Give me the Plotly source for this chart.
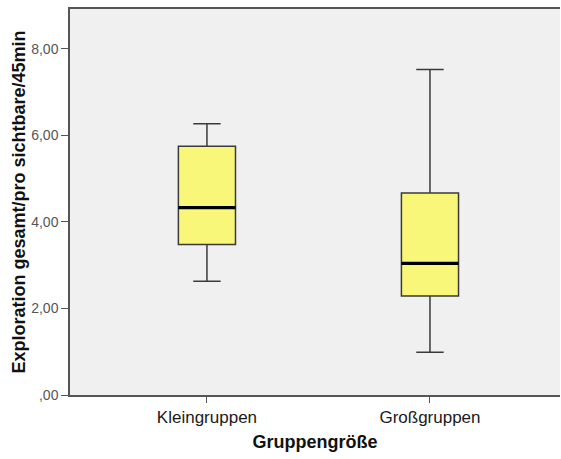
import plotly.graph_objects as go

# Box plot summary per group
groups = ["Kleingruppen", "Großgruppen"]
lower_whisker = [2.63, 0.99]
q1 = [3.48, 2.29]
median = [4.33, 3.04]
q3 = [5.75, 4.67]
upper_whisker = [6.27, 7.52]

y_ticks = [0, 2, 4, 6, 8]
y_tick_labels = [",00", "2,00", "4,00", "6,00", "8,00"]

positions = list(range(len(groups)))
box_w = 0.256

fig = go.Figure()
fig.add_trace(go.Box(
    x=positions,
    q1=q1, median=median, q3=q3,
    lowerfence=lower_whisker, upperfence=upper_whisker,
    width=box_w,
    whiskerwidth=0.48,
    fillcolor="#F9F77A",
    line=dict(color="#3a3a3a", width=1.5),
    boxpoints=False,
    showlegend=False,
    hoverinfo="skip",
))

# thick median bars
for p, m in zip(positions, median):
    fig.add_trace(go.Scatter(
        x=[p - box_w / 2, p + box_w / 2], y=[m, m],
        mode="lines", line=dict(color="black", width=3.2),
        showlegend=False, hoverinfo="skip",
    ))

fig.update_layout(
    width=561, height=459,
    margin=dict(l=70, r=1, t=9, b=64),
    paper_bgcolor="white",
    plot_bgcolor="#F0F0F0",
    font=dict(family="Liberation Sans, Arial, sans-serif", color="#222"),
)
fig.update_xaxes(
    range=[-0.614, 1.583],
    tickvals=positions, ticktext=groups,
    tickfont=dict(size=17, color="#1a1a1a"),
    ticks="outside", ticklen=6, tickcolor="#555", tickwidth=1,
    showline=True, linecolor="#555", linewidth=1.5, mirror=True,
    showgrid=False, zeroline=False,
    title=dict(text="<b>Gruppengröße</b>", font=dict(size=18, color="#111"), standoff=9),
)
fig.update_yaxes(
    range=[0, 8.92],
    tickvals=y_ticks, ticktext=y_tick_labels,
    tickfont=dict(size=14, color="#555"),
    ticks="outside", ticklen=7, tickcolor="#555", tickwidth=1,
    showline=True, linecolor="#555", linewidth=1.5,
    showgrid=False, zeroline=False,
    title=dict(text="<b>Exploration gesamt/pro sichtbare/45min</b>",
               font=dict(size=18, color="#111"), standoff=1),
)

fig.write_html("out.html")
